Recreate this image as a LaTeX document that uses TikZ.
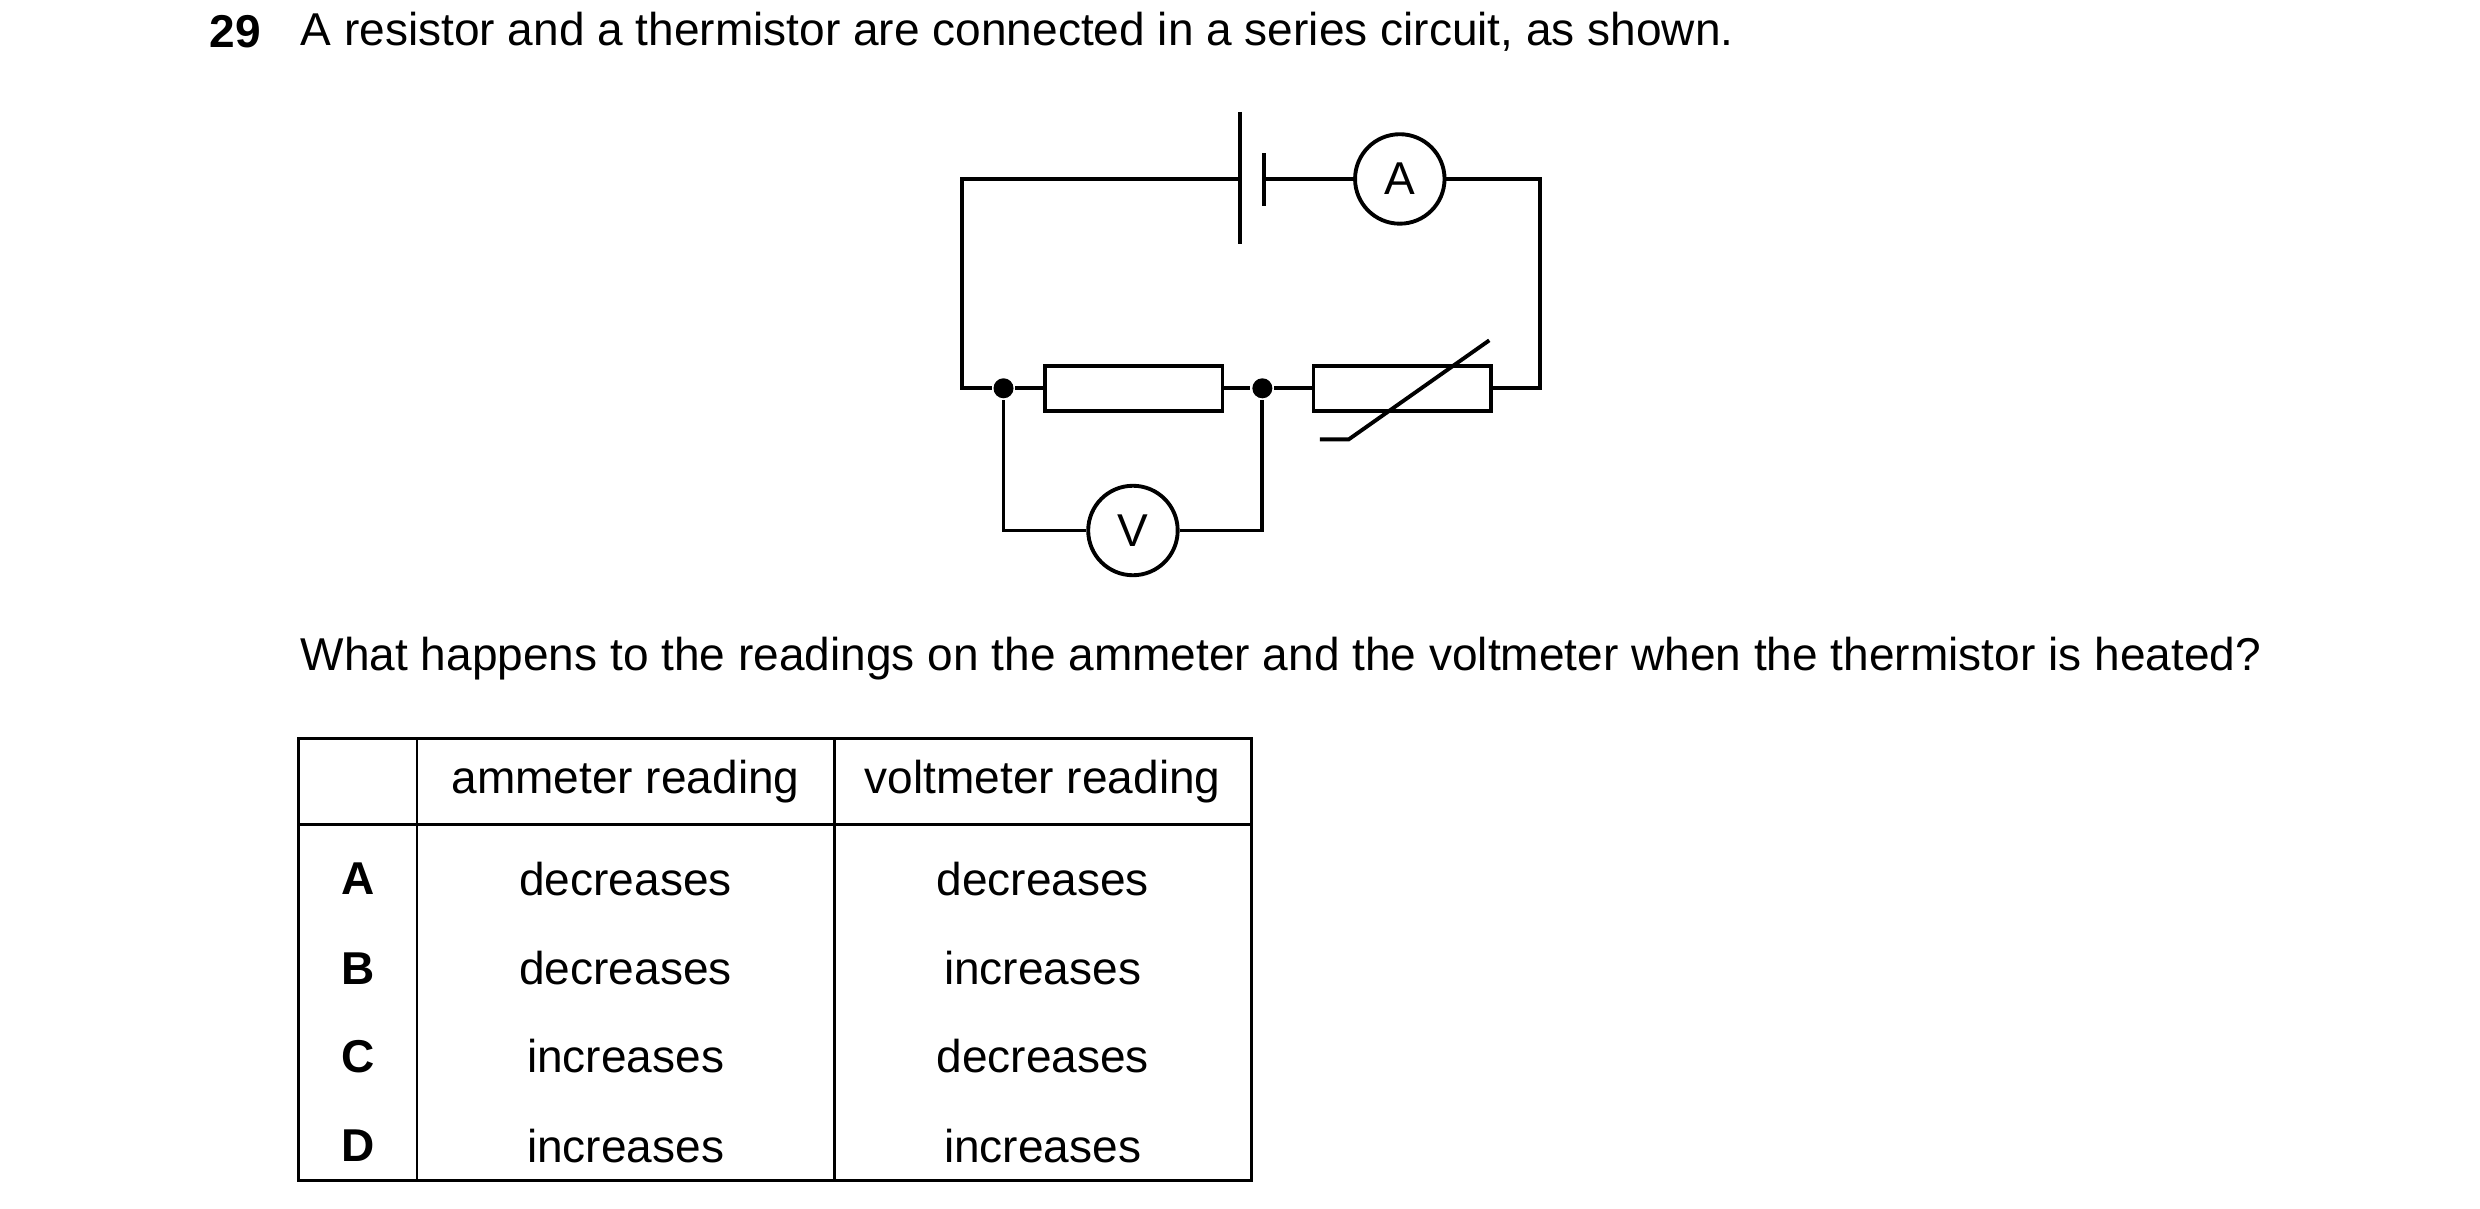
\documentclass[tikz,border=0pt]{standalone}
\usepackage{fontspec}
\setmainfont{Liberation Sans}
\begin{document}
\begin{tikzpicture}[x=0.1598mm,y=-0.1598mm,line width=1.1pt,
  txt/.style={font=\fontsize{13.1}{16}\selectfont,inner sep=0},
  meter/.style={draw,circle,minimum size=56*0.1598mm,inner sep=0,font=\fontsize{13.1}{16}\selectfont},
  res/.style={draw,minimum width=111*0.1598mm,minimum height=28*0.1598mm,inner sep=0},
  dot/.style={circle,fill,inner sep=0,minimum size=2mm},
  grid/.style={line width=0.8pt}]
\useasboundingbox (0,0) rectangle (1552,756);
\node[txt,font=\fontsize{13.1}{16}\selectfont\bfseries,anchor=west] (q) at (130,20) {29};
\node[txt,anchor=west] (t1) at (187,20) {A resistor and a thermistor are connected in a series circuit, as shown.};
% circuit
\coordinate (tl) at (602,112); \coordinate (tr) at (964,112);
\coordinate (bl) at (602,243); \coordinate (br) at (964,243);
\coordinate (p1a) at (776,70); \coordinate (p1b) at (776,153);
\coordinate (p2a) at (791,96); \coordinate (p2b) at (791,129);
\coordinate (p1) at (776,112); \coordinate (p2) at (791,112);
\node[meter] (A) at (876,112) {A};
\node[res] (R) at (709.5,243) {};
\node[res] (T) at (877.5,243) {};
\node[dot] (j1) at (628,243) {};
\node[dot] (j2) at (790,243) {};
\node[meter] (V) at (709,332) {V};
\draw (p1) -- (tl) -- (bl) -- (j1) -- (R.west);
\draw (R.east) -- (j2) -- (T.west);
\draw (T.east) -- (br) -- (tr) -- (A.east);
\draw (A.west) -- (p2);
\draw (p1a) -- (p1b); \draw (p2a) -- (p2b);
\draw (j1) |- (V.west); \draw (j2) |- (V.east);
\coordinate (d0) at (826,275); \coordinate (d1) at (844,275); \coordinate (d2) at (932,213);
\draw (d0) -- (d1) -- (d2);
\node[txt,anchor=west] (t2) at (187,412) {What happens to the readings on the ammeter and the voltmeter when the thermistor is heated?};
% table
\draw[grid] (187,462) rectangle (783,739);
\draw[grid] (261,462) -- (261,739); \draw[grid] (522,462) -- (522,739);
\draw[grid] (187,516) -- (783,516);
\node[txt] (h1) at (391.5,489) {ammeter reading};
\node[txt] (h2) at (652.5,489) {voltmeter reading};
\foreach \l/\a/\b/\y in {A/decreases/decreases/550,B/decreases/increases/606,C/increases/decreases/661,D/increases/increases/717}{
  \node[txt,font=\fontsize{13.1}{16}\selectfont\bfseries] (r\l) at (224,\y) {\l};
  \node[txt] (a\l) at (391.5,\y) {\a};
  \node[txt] (b\l) at (652.5,\y) {\b};
}
\end{tikzpicture}
\end{document}
